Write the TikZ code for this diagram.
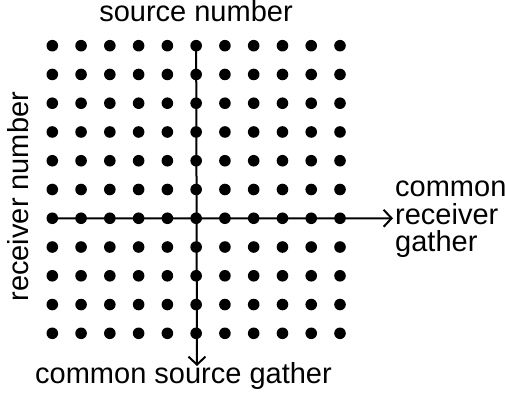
\documentclass[tikz,border=0pt]{standalone}
\usepackage{fontspec}
\setmainfont{Liberation Sans}
\usetikzlibrary{arrows.meta}
\begin{document}
\begin{tikzpicture}[x=1pt,y=-1pt,
  dot/.style={circle,fill=black,inner sep=0pt,minimum size=11.6pt},
  axis/.style={line width=2pt,-{Straight Barb[length=8pt,width=17pt,line width=2pt]}},
  lbl/.style={font=\fontsize{29}{27.5}\selectfont,inner sep=0pt}]
\useasboundingbox (0,0) rectangle (505,398);
% 11 x 11 grid of sources and receivers
\foreach \i in {1,...,11}{
  \foreach \j in {1,...,11}{
    \node[dot] (d-\i-\j) at ({52.3+28.77*(\i-1)},{45.7+28.76*(\j-1)}) {};
  }
}
% gather directions
\coordinate (htip) at (393,218.3);
\coordinate (vtip) at (197,366);
\draw[axis] (d-1-7.center) -- (htip);
\draw[axis] (d-6-1.center) -- (vtip);
% labels
\node[lbl,anchor=base] (src) at (196,21.7) {source number};
\node[lbl,anchor=base] (csg) at (183.5,383.3) {common source gather};
\node[lbl,anchor=base,rotate=90] (rcv) at (28,196.7) {receiver number};
% base anchor of a multi-line node sits on its last line
\node[lbl,anchor=base west,align=left] (crg) at (395,251.7) {common\\receiver\\gather};
\end{tikzpicture}
\end{document}
